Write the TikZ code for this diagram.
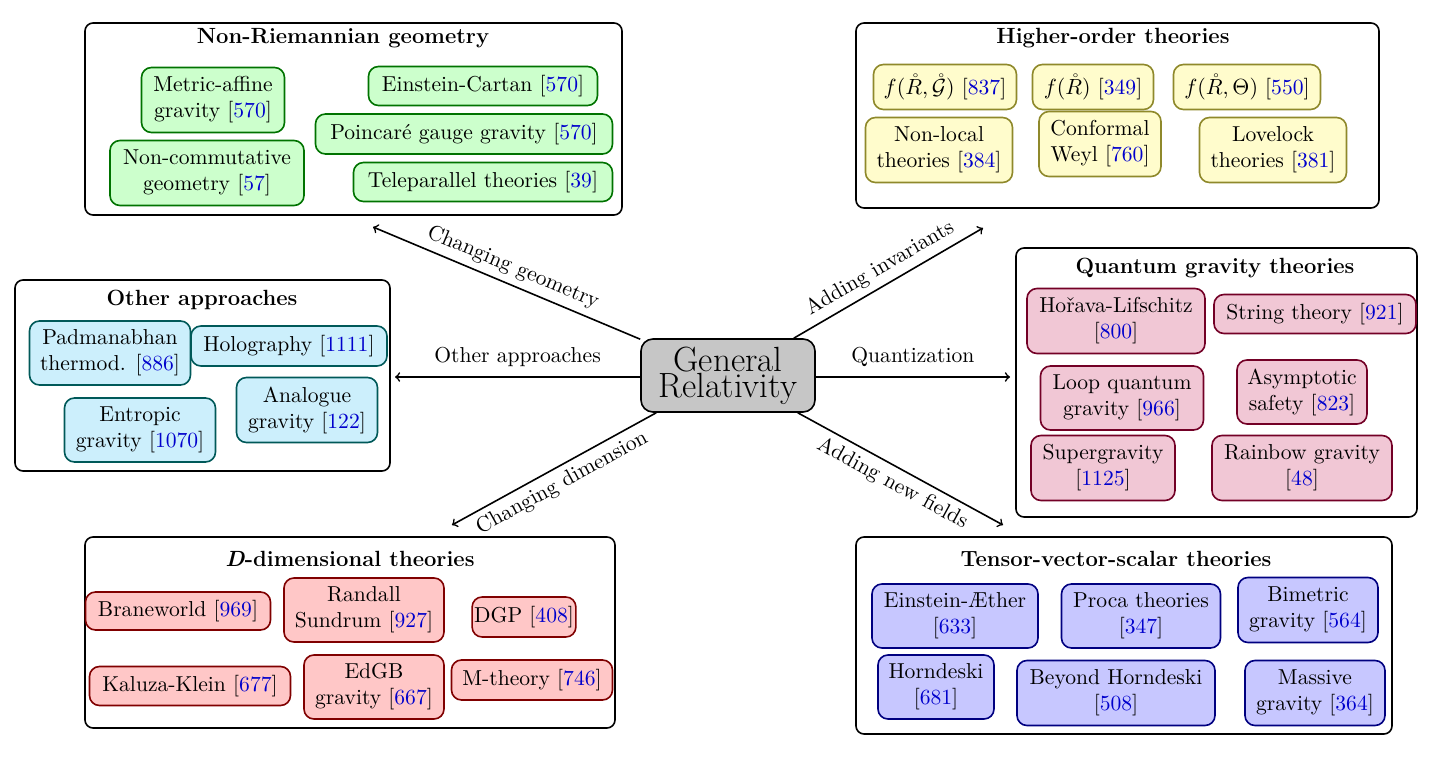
\documentclass[tikz,border=0pt]{standalone}
\usepackage{xcolor}
\begin{document}
\newcommand{\cc}[1]{[\textcolor{blue!80!black}{#1}]}
\newcommand{\bx}[7]{\node[#1,minimum width={#4*0.5pt},minimum height={#5*0.5pt}] (#2) at (#3) {#6};}
\begin{tikzpicture}[x=0.5pt,y=-0.5pt,
  every node/.style={font=\fontsize{10.8}{13}\selectfont,inner sep=1pt},
  panel/.style={draw,thick,rounded corners=4pt,fill=white},
  ttl/.style={font=\fontsize{11}{13}\selectfont\bfseries},
  bb/.style={draw,thick,rounded corners=5pt,align=center},
  gn/.style={bb,fill=green!20,draw=green!45!black},
  yl/.style={bb,fill=yellow!20,draw=olive!70!gray},
  cy/.style={bb,fill=cyan!20,draw=teal!70!black},
  pk/.style={bb,fill=purple!22,draw=purple!60!black},
  rd/.style={bb,fill=red!22,draw=red!50!black},
  bl/.style={bb,fill=blue!22,draw=blue!50!black},
  arr/.style={->,thick},
  lab/.style={font=\fontsize{10.8}{13}\selectfont}]
\useasboundingbox (0,0) rectangle (1437,765);
% panels
\node[panel,minimum width={537*0.5pt},minimum height={192*0.5pt}] (p1) at (353.5,119) {};
\node[ttl] (t1) at (343,38) {Non-Riemannian geometry};
\node[panel,minimum width={523*0.5pt},minimum height={185*0.5pt}] (p2) at (1117.5,115.5) {};
\node[ttl] (t2) at (1113,38) {Higher-order theories};
\node[panel,minimum width={375*0.5pt},minimum height={191*0.5pt}] (p3) at (202.5,375.5) {};
\node[ttl] (t3) at (202,300) {Other approaches};
\node[panel,minimum width={401*0.5pt},minimum height={269*0.5pt}] (p4) at (1216.5,382.5) {};
\node[ttl] (t4) at (1215,268) {Quantum gravity theories};
\node[panel,minimum width={530*0.5pt},minimum height={191*0.5pt}] (p5) at (350,632.5) {};
\node[ttl] (t5) at (350,559) {\textit{D}-dimensional theories};
\node[panel,minimum width={536*0.5pt},minimum height={197*0.5pt}] (p6) at (1124,635.5) {};
\node[ttl] (t6) at (1116,559) {Tensor-vector-scalar theories};
% green
\bx{gn}{a1}{213,100}{143}{65}{Metric-affine\\gravity \cc{570}}{}
\bx{gn}{a2}{207,173}{194}{65}{Non-commutative\\geometry \cc{57}}{}
\bx{gn}{a3}{483,86}{229}{39}{Einstein-Cartan \cc{570}}{}
\bx{gn}{a4}{464,134}{297}{40}{Poincar\'e gauge gravity \cc{570}}{}
\bx{gn}{a5}{483,182}{259}{39}{Teleparallel theories \cc{39}}{}
% yellow
\bx{yl}{b1}{945,87}{143}{45}{$f(\mathring{R},\mathring{\mathcal G})$ \cc{837}}{}
\bx{yl}{b2}{1093,87}{121}{45}{$f(\mathring{R})$ \cc{349}}{}
\bx{yl}{b3}{1247,87}{147}{45}{$f(\mathring{R},\Theta)$ \cc{550}}{}
\bx{yl}{b4}{939,150}{147}{65}{Non-local\\theories \cc{384}}{}
\bx{yl}{b5}{1100,144}{122}{65}{Conformal\\Weyl \cc{760}}{}
\bx{yl}{b6}{1273,150}{147}{65}{Lovelock\\theories \cc{381}}{}
% cyan
\bx{cy}{c1}{110,353}{161}{64}{Padmanabhan\\thermod. \cc{886}}{}
\bx{cy}{c2}{289,346}{196}{40}{Holography \cc{1111}}{}
\bx{cy}{c3}{140,430}{151}{64}{Entropic\\gravity \cc{1070}}{}
\bx{cy}{c4}{307,410}{141}{65}{Analogue\\gravity \cc{122}}{}
% pink
\bx{pk}{d1}{1116,321}{178}{65}{Ho\v{r}ava-Lifschitz\\\cc{800}}{}
\bx{pk}{d2}{1315,314}{202}{39}{String theory \cc{921}}{}
\bx{pk}{d3}{1122,398}{163}{64}{Loop quantum\\gravity \cc{966}}{}
\bx{pk}{d4}{1302,392}{130}{64}{Asymptotic\\safety \cc{823}}{}
\bx{pk}{d5}{1103,468}{144}{65}{Supergravity\\\cc{1125}}{}
\bx{pk}{d6}{1302,468}{180}{65}{Rainbow gravity\\\cc{48}}{}
% red
\bx{rd}{e1}{178,611}{185}{38}{Braneworld \cc{969}}{}
\bx{rd}{e2}{364,610}{160}{64}{Randall\\Sundrum \cc{927}}{}
\bx{rd}{e3}{524,617}{94}{40}{DGP \cc{408}}{}
\bx{rd}{e4}{190,686}{201}{39}{Kaluza-Klein \cc{677}}{}
\bx{rd}{e5}{374,687}{140}{64}{EdGB\\gravity \cc{667}}{}
\bx{rd}{e6}{532,680}{161}{40}{M-theory \cc{746}}{}
% blue
\bx{bl}{f1}{955,616}{166}{64}{Einstein-\AE ther\\\cc{633}}{}
\bx{bl}{f2}{1141,616}{159}{64}{Proca theories\\\cc{347}}{}
\bx{bl}{f3}{1308,610}{140}{65}{Bimetric\\gravity \cc{564}}{}
\bx{bl}{f4}{936,687}{116}{64}{Horndeski\\\cc{681}}{}
\bx{bl}{f5}{1116,693}{198}{65}{Beyond Horndeski\\\cc{508}}{}
\bx{bl}{f6}{1315,693}{140}{65}{Massive\\gravity \cc{364}}{}
% center
\node[draw,thick,rounded corners=6pt,fill=gray!45,align=center,
  minimum width={174*0.5pt},minimum height={73*0.5pt},
  font=\fontsize{17.5}{13}\selectfont] (gr) at (728,375.5) {General\\Relativity};
\coordinate (e1a) at (373,227); \coordinate (e2a) at (983,228);
\coordinate (e3a) at (395,377); \coordinate (e4a) at (1010,377);
\coordinate (e5a) at (452,525); \coordinate (e6a) at (1003,525);
\draw[arr] ([yshift={-1*0.5pt}]gr.north west) -- node[lab,midway,sloped,above=2pt]{Changing geometry} (e1a);
\draw[arr] ([xshift={-22*0.5pt}]gr.north east) -- node[lab,midway,sloped,above=2pt]{Adding invariants} (e2a);
\draw[arr] ([yshift={-1.5*0.5pt}]gr.west) -- node[lab,midway,above=4pt]{Other approaches} (e3a);
\draw[arr] ([yshift={-1.5*0.5pt}]gr.east) -- node[lab,midway,above=4pt]{Quantization} (e4a);
\draw[arr] ([xshift={16*0.5pt}]gr.south west) -- node[lab,midway,sloped,below=2pt]{Changing dimension} (e5a);
\draw[arr] ([xshift={-18*0.5pt}]gr.south east) -- node[lab,midway,sloped,below=2pt]{Adding new fields} (e6a);
\end{tikzpicture}
\end{document}
